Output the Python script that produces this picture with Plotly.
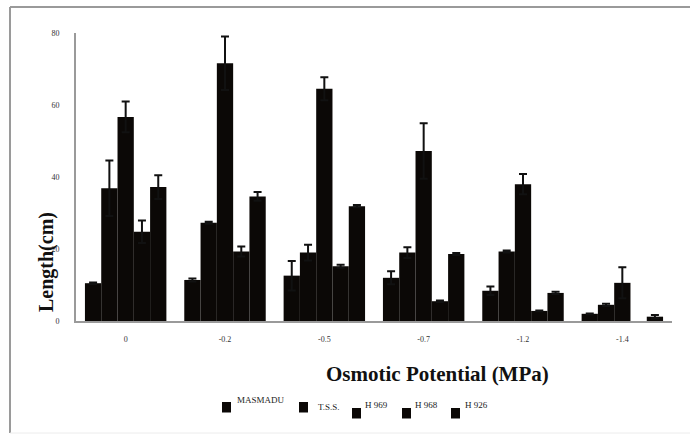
import plotly.graph_objects as go

# Osmotic potential treatments (MPa)
categories = ["0", "-0.2", "-0.5", "-0.7", "-1.2", "-1.4"]

# Mean length (cm) per variety and its error (None: no bar / no error bar)
series_names = ["MASMADU", "T.S.S.", "H 969", "H 968", "H 926"]
masmadu = [10.5, 11.4, 12.6, 12.0, 8.4, 2.0]
masmadu_err = [0.2, 0.4, 4.1, 1.8, 1.2, 0.1]
tss = [36.9, 27.3, 19.0, 19.0, 19.3, 4.5]
tss_err = [7.7, 0.3, 2.2, 1.5, 0.3, 0.3]
h969 = [56.7, 71.6, 64.5, 47.2, 38.0, 10.6]
h969_err = [4.3, 7.4, 3.2, 7.7, 2.8, 4.3]
h968 = [24.8, 19.3, 15.2, 5.5, 2.8, None]
h968_err = [3.1, 1.4, 0.4, 0.2, 0.1, None]
h926 = [37.2, 34.6, 31.9, 18.6, 7.8, 1.2]
h926_err = [3.3, 1.2, 0.3, 0.3, 0.3, 0.5]

values = [masmadu, tss, h969, h968, h926]
errors = [masmadu_err, tss_err, h969_err, h968_err, h926_err]

SERIF = "Liberation Serif, Times New Roman, serif"
BAR = "#0b0806"

fig = go.Figure()
for name, vals, errs in zip(series_names, values, errors):
    fig.add_trace(go.Bar(
        name=name,
        x=categories,
        y=vals,
        marker=dict(color=BAR, line=dict(width=0)),
        error_y=dict(type="data", array=errs, visible=True,
                     color="#111111", thickness=2, width=4),
    ))

# plot area geometry in pixels
W, H = 690, 434
L, R, T, B = 76, 18, 33, 113
pw, ph = W - L - R, H - T - B

def px_x(x):
    return (x - L) / pw

def px_y(y):
    return (H - B - y) / ph

# hand-placed key: (square left, square top, text left, text middle)
key_layout = [
    (222, 402, 235, 400),
    (299, 402, 316, 407),
    (352, 408, 363, 405),
    (402, 408, 413, 405),
    (451, 408, 463, 405),
]

shapes = [
    # outer frame lines
    dict(type="line", xref="paper", yref="paper",
         x0=px_x(10), x1=px_x(10), y0=px_y(7), y1=px_y(433),
         line=dict(color="#9a9a9a", width=2)),
    dict(type="line", xref="paper", yref="paper",
         x0=px_x(10), x1=px_x(700), y0=px_y(7), y1=px_y(7),
         line=dict(color="#9a9a9a", width=2)),
    dict(type="line", xref="paper", yref="paper",
         x0=px_x(10), x1=px_x(700), y0=px_y(433), y1=px_y(433),
         line=dict(color="#ececec", width=1)),
]
annotations = [
    dict(text="<b>Length(cm)</b>", xref="paper", yref="paper",
         x=px_x(46), y=px_y(262), textangle=-90,
         showarrow=False, xanchor="center", yanchor="middle",
         font=dict(family=SERIF, size=20, color="#111111")),
    dict(text="<b>Osmotic Potential (MPa)</b>", xref="paper", yref="paper",
         x=px_x(437), y=px_y(374),
         showarrow=False, xanchor="center", yanchor="middle",
         font=dict(family=SERIF, size=21, color="#111111")),
]
for name, (sx, sy, tx, ty) in zip(series_names, key_layout):
    shapes.append(dict(type="rect", xref="paper", yref="paper",
                       x0=px_x(sx), x1=px_x(sx + 9),
                       y0=px_y(sy), y1=px_y(sy + 10.5),
                       fillcolor=BAR, line=dict(width=0)))
    annotations.append(dict(text=name, xref="paper", yref="paper",
                            x=px_x(tx), y=px_y(ty),
                            showarrow=False, xanchor="left", yanchor="middle",
                            font=dict(family=SERIF, size=9, color="#222222")))

fig.update_layout(
    width=W, height=H,
    margin=dict(l=L, r=R, t=T, b=B),
    paper_bgcolor="white",
    plot_bgcolor="white",
    barmode="group",
    bargap=0.18,
    bargroupgap=0.0,
    font=dict(family=SERIF, color="#222222"),
    showlegend=False,
    xaxis=dict(
        showline=True, linecolor="#9a9a9a", linewidth=2,
        showgrid=False, zeroline=False,
        ticks="", ticklabelstandoff=9,
        tickfont=dict(family=SERIF, size=8, color="#333333"),
    ),
    yaxis=dict(
        range=[0, 80],
        tickvals=[0, 20, 40, 60, 80],
        showline=True, linecolor="#9a9a9a", linewidth=2,
        showgrid=False, zeroline=False,
        ticks="", ticklabelstandoff=13,
        tickfont=dict(family=SERIF, size=8, color="#333333"),
    ),
    annotations=annotations,
    shapes=shapes,
)

fig.write_html("out.html")
